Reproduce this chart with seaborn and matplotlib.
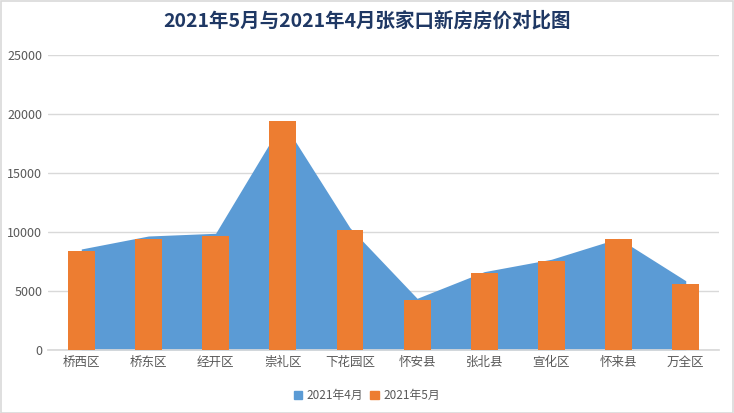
import matplotlib
matplotlib.use("Agg")
import matplotlib.pyplot as plt
import pandas as pd
import seaborn as sns
from matplotlib.patches import Patch, Rectangle

districts = ["桥西区", "桥东区", "经开区", "崇礼区", "下花园区",
             "怀安县", "张北县", "宣化区", "怀来县", "万全区"]
price_apr = [8560, 9660, 9890, 19350, 10360, 4380, 6640, 7690, 9460, 5870]
price_may = [8390, 9410, 9660, 19400, 10170, 4240, 6530, 7540, 9410, 5590]
y_ticks = [0, 5000, 10000, 15000, 20000, 25000]

BLUE = "#5B9BD5"
ORANGE = "#ED7D31"
GRID = "#D9D9D9"
TEXT = "#595959"

sns.set_theme(style="white")
plt.rcParams["font.family"] = ["Noto Sans CJK SC", "DejaVu Sans"]

df = pd.DataFrame({"district": districts, "apr": price_apr, "may": price_may})

fig = plt.figure(figsize=(7.34, 4.13), dpi=100)
ax = fig.add_axes([0.065, 0.1525, 0.915, 0.7145])

# April as area between category centres
ax.fill_between(range(len(districts)), df["apr"], 0, color=BLUE, lw=0, zorder=2)
sns.barplot(data=df, x="district", y="may", color=ORANGE, width=0.4,
            saturation=1, linewidth=0, ax=ax, zorder=3)

ax.set_xlim(-0.5, len(districts) - 0.5)
ax.set_ylim(0, 25000)
ax.set_yticks(y_ticks)
ax.yaxis.grid(True, color=GRID, lw=1, zorder=0)
ax.set_axisbelow(True)
ax.set_xlabel("")
ax.set_ylabel("")
for s in ["top", "left", "right"]:
    ax.spines[s].set_visible(False)
ax.spines["bottom"].set_color(GRID)
ax.tick_params(axis="both", length=0, labelsize=9, colors=TEXT, pad=4)

fig.suptitle("2021年5月与2021年4月张家口新房房价对比图", x=0.5, y=0.975,
             fontsize=14, fontweight="bold", color="#1F3864")

handles = [Patch(color=BLUE, label="2021年4月"), Patch(color=ORANGE, label="2021年5月")]
fig.legend(handles=handles, loc="lower center", bbox_to_anchor=(0.5, 0.0),
           ncol=2, frameon=False, fontsize=8.5, handlelength=0.7, handleheight=0.7,
           handletextpad=0.4, columnspacing=0.6, labelcolor=TEXT)

fig.patches.append(Rectangle((0.001, 0.001), 0.997, 0.997, transform=fig.transFigure,
                             fill=False, edgecolor=GRID, lw=1.2))

fig.savefig("out.png", dpi=100)
